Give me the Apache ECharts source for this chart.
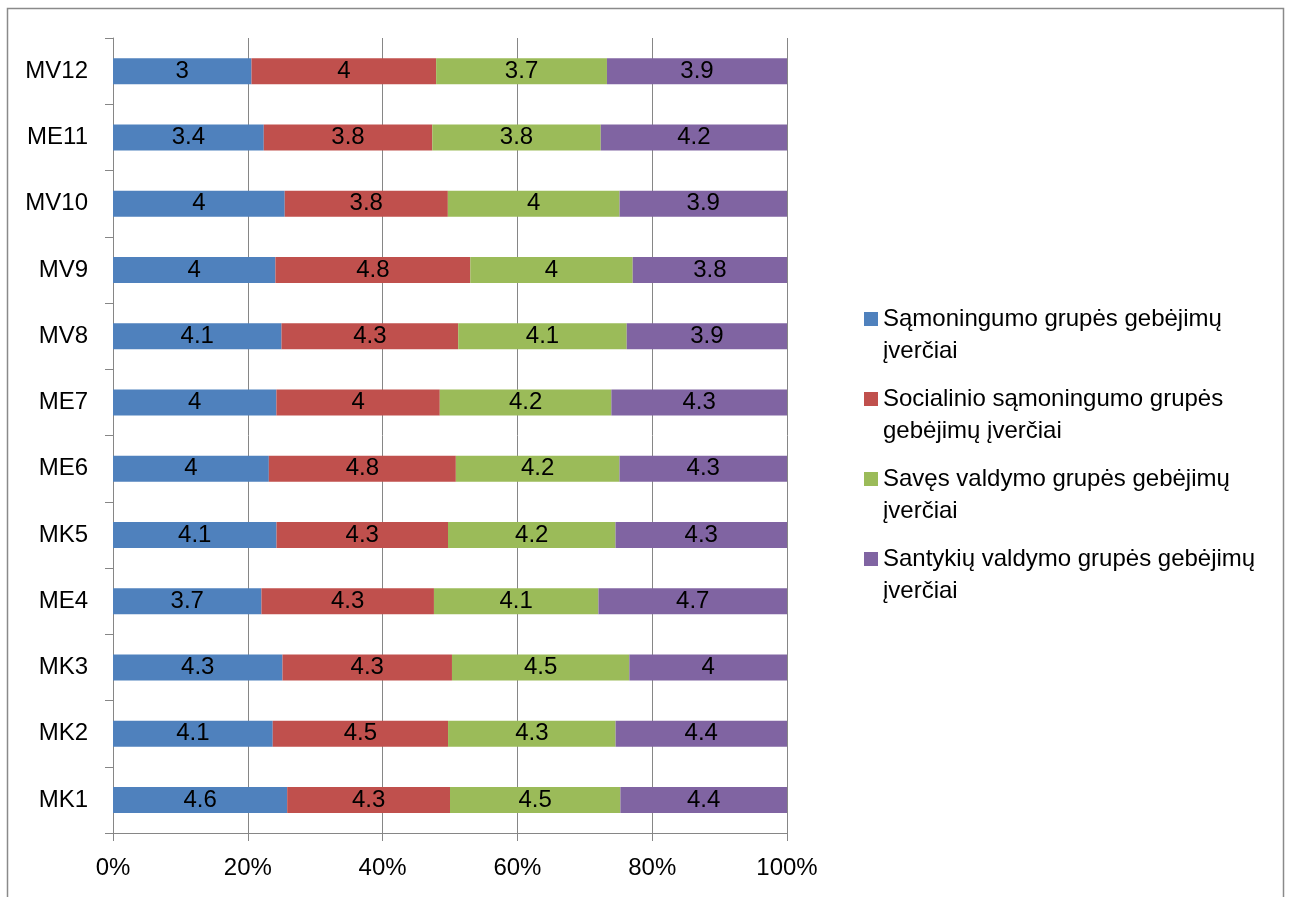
<!DOCTYPE html>
<html>
<head>
<meta charset="utf-8">
<script src="https://cdn.jsdelivr.net/npm/echarts@6/dist/echarts.min.js"></script>
<style>
  html, body { margin: 0; padding: 0; background: #fff; }
  #chart { width: 1292px; height: 897px; }
</style>
</head>
<body>
<div id="chart"></div>
<script>
// categories bottom -> top
const categories = ['MK1', 'MK2', 'MK3', 'ME4', 'MK5', 'ME6', 'ME7', 'MV8', 'MV9', 'MV10', 'ME11', 'MV12']
const samoningumas = [4.6, 4.1, 4.3, 3.7, 4.1, 4, 4, 4.1, 4, 4, 3.4, 3]
const socialinis = [4.3, 4.5, 4.3, 4.3, 4.3, 4.8, 4, 4.3, 4.8, 3.8, 3.8, 4]
const savesValdymas = [4.5, 4.3, 4.5, 4.1, 4.2, 4.2, 4.2, 4.1, 4, 4, 3.8, 3.7]
const santykiai = [4.4, 4.4, 4, 4.7, 4.3, 4.3, 4.3, 3.9, 3.8, 3.9, 4.2, 3.9]

const seriesNames = [
  'Sąmoningumo grupės gebėjimų įverčiai',
  'Socialinio sąmoningumo grupės gebėjimų įverčiai',
  'Savęs valdymo grupės gebėjimų įverčiai',
  'Santykių valdymo grupės gebėjimų įverčiai'
]
// wrapped like the original legend; leading empty line keeps the marker on the first line
const legendLines = [
  '\nSąmoningumo grupės gebėjimų\nįverčiai',
  '\nSocialinio sąmoningumo grupės\ngebėjimų įverčiai',
  '\nSavęs valdymo grupės gebėjimų\nįverčiai',
  '\nSantykių valdymo grupės gebėjimų\nįverčiai'
]
const colors = ['#4F81BD', '#C0504D', '#9BBB59', '#8064A2']

const raw = [samoningumas, socialinis, savesValdymas, santykiai]
const totals = categories.map((c, i) => raw.reduce((s, arr) => s + arr[i], 0))

const font = '"Liberation Sans", Arial, sans-serif'
const gray = '#868686'

const chart = echarts.init(document.getElementById('chart'))
chart.setOption({
  animation: false,
  textStyle: { fontFamily: font },
  graphic: [{
    type: 'rect',
    shape: { x: 7.5, y: 8.5, width: 1276, height: 1000 },
    style: { fill: 'none', stroke: '#8a8a8a', lineWidth: 1.5 },
    silent: true
  }],
  grid: { left: 113, right: 505, top: 38, bottom: 64 },
  legend: {
    orient: 'vertical',
    left: 859,
    top: 266,
    icon: 'rect',
    itemWidth: 14,
    itemHeight: 14,
    itemGap: -16,
    data: seriesNames,
    formatter: name => legendLines[seriesNames.indexOf(name)],
    textStyle: {
      fontFamily: font,
      fontSize: 24,
      lineHeight: 32,
      color: '#000'
    }
  },
  xAxis: {
    type: 'value',
    min: 0,
    max: 100,
    interval: 20,
    axisLine: { show: true, lineStyle: { color: gray } },
    axisTick: { show: true, length: 8, lineStyle: { color: gray } },
    axisLabel: { formatter: '{value}%', fontSize: 24, color: '#000', margin: 23 },
    splitLine: { show: true, lineStyle: { color: gray, width: 1 } }
  },
  yAxis: {
    type: 'category',
    data: categories,
    axisLine: { show: true, lineStyle: { color: gray } },
    axisTick: { show: true, length: 8, lineStyle: { color: gray } },
    axisLabel: { fontSize: 24, color: '#000', margin: 25 },
    splitLine: { show: false }
  },
  series: raw.map((arr, k) => ({
    name: seriesNames[k],
    type: 'bar',
    stack: 'total',
    barWidth: 26,
    itemStyle: { color: colors[k] },
    label: {
      show: true,
      position: 'inside',
      fontSize: 24,
      color: '#000',
      formatter: p => String(arr[p.dataIndex])
    },
    data: arr.map((v, i) => v / totals[i] * 100)
  }))
})
</script>
</body>
</html>
